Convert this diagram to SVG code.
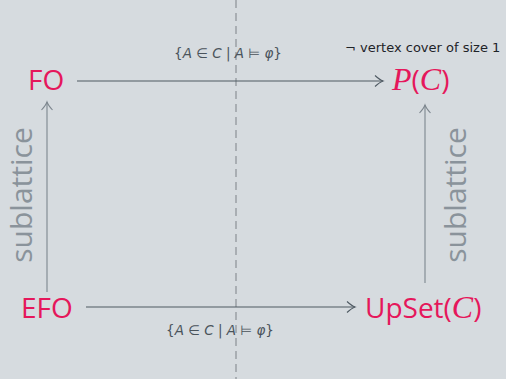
<svg xmlns="http://www.w3.org/2000/svg" width="506" height="379" viewBox="0 0 506 379">
<defs>
<marker id="ah" markerWidth="14" markerHeight="14" refX="11" refY="7" orient="auto" markerUnits="userSpaceOnUse">
<path d="M3,1.5 Q8,6 11,7 Q8,8 3,12.5" fill="none" stroke="#4f5a63" stroke-width="1.1"/>
</marker>
<marker id="ahg" markerWidth="14" markerHeight="14" refX="11" refY="7" orient="auto" markerUnits="userSpaceOnUse">
<path d="M3,1.5 Q8,6 11,7 Q8,8 3,12.5" fill="none" stroke="#7d868e" stroke-width="1.1"/>
</marker>
</defs>
<style>
.node{font-family:"Open Sans","DejaVu Sans",sans-serif;font-size:28px;fill:#e5175b}
.cal{font-family:"Liberation Serif",serif;font-style:italic;font-size:32px}
.lbl{font-family:"DejaVu Sans",sans-serif;font-size:13px;fill:#1e2328}
.math{font-family:"DejaVu Sans",sans-serif;font-size:13.5px;fill:#4a535b}
.it{font-style:italic}
.side{font-family:"Open Sans","DejaVu Sans",sans-serif;font-size:30px;fill:#8a939b}
.edge{stroke:#4f5a63;stroke-width:1.1;fill:none}
.vedge{stroke:#7d868e;stroke-width:1.1;fill:none}
</style>
<rect width="506" height="379" fill="#d6dbdf"/>
<line x1="236" y1="0" x2="236" y2="379" stroke="#a9aeb3" stroke-width="2" stroke-dasharray="8,5"/>
<g id="connectors">
<line class="edge" x1="77" y1="81" x2="383" y2="81" marker-end="url(#ah)"/>
<line class="edge" x1="86" y1="307" x2="355" y2="307" marker-end="url(#ah)"/>
<line class="vedge" x1="47" y1="292" x2="47" y2="102" marker-end="url(#ahg)"/>
<line class="vedge" x1="425" y1="283" x2="425" y2="105" marker-end="url(#ahg)"/>
<text class="math" x="228" y="58" text-anchor="middle">{<tspan class="it">A</tspan> ∈ <tspan class="it">C</tspan> | <tspan class="it">A</tspan> ⊨ <tspan class="it">φ</tspan>}</text>
<text class="math" x="220" y="335" text-anchor="middle">{<tspan class="it">A</tspan> ∈ <tspan class="it">C</tspan> | <tspan class="it">A</tspan> ⊨ <tspan class="it">φ</tspan>}</text>
<text class="lbl" x="345" y="52">¬ vertex cover of size 1</text>
<text class="side" transform="translate(32,195) rotate(-90)" text-anchor="middle">sublattice</text>
<text class="side" transform="translate(466,195) rotate(-90)" text-anchor="middle">sublattice</text>
</g>
<g id="FO"><text class="node" x="28" y="90">FO</text></g>
<g id="PC"><text class="node" x="392" y="90"><tspan class="cal">P</tspan>(<tspan class="cal">C</tspan>)</text></g>
<g id="EFO"><text class="node" x="21" y="318">EFO</text></g>
<g id="UpSetC"><text class="node" x="365" y="318">UpSet(<tspan class="cal">C</tspan>)</text></g>
</svg>
